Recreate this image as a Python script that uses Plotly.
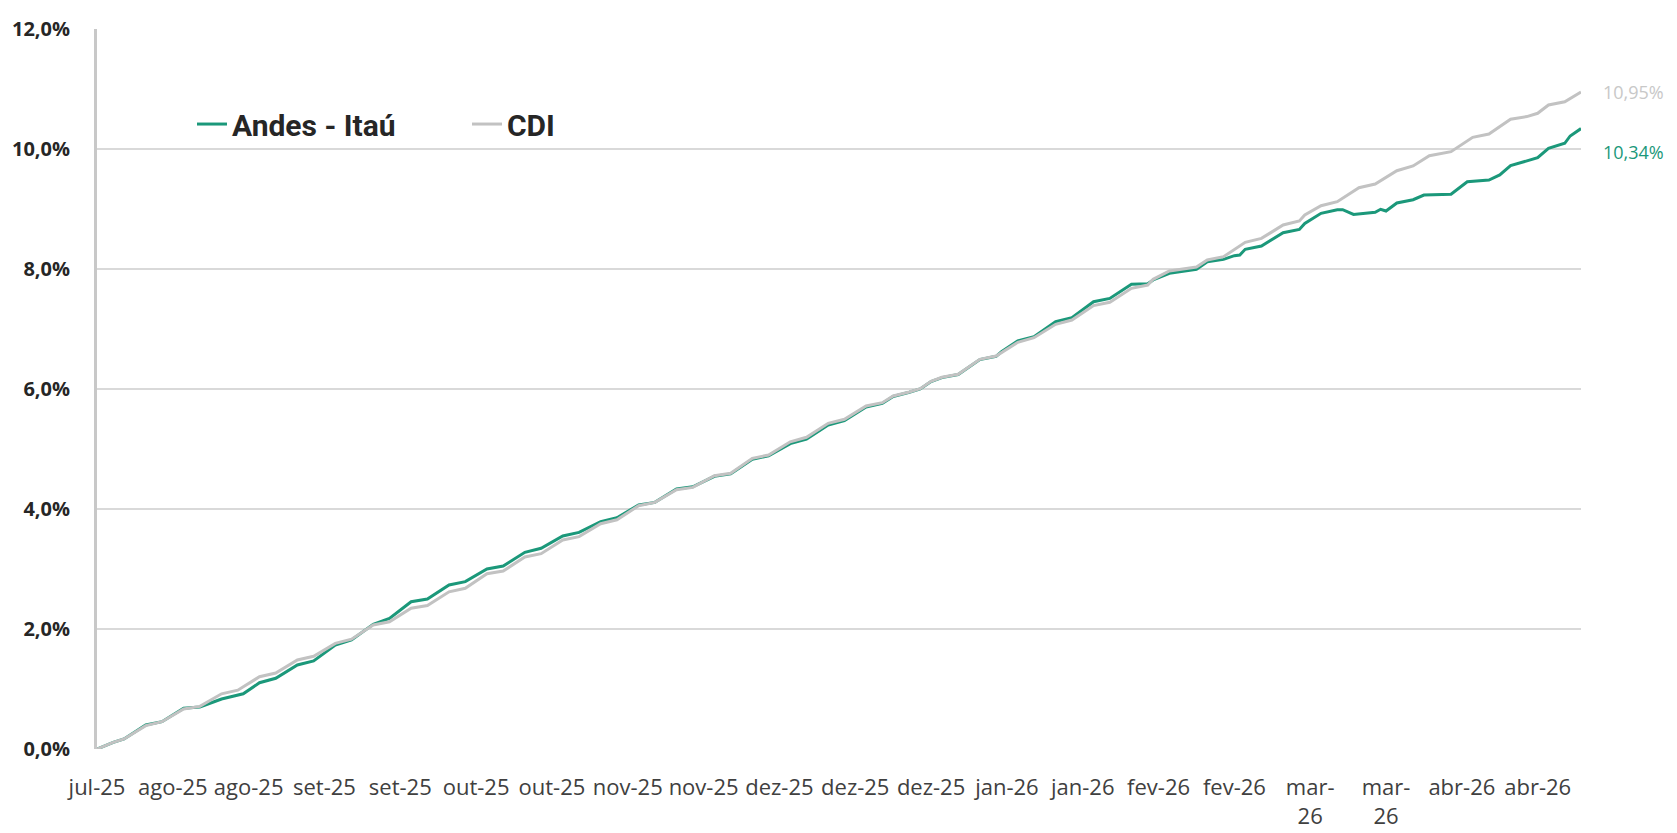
import plotly.graph_objects as go

# Day offsets (calendar days from the first observation) and cumulative returns (%)
cdi_day = [0, 3, 5, 9, 12, 16, 19, 23, 26, 30, 33, 37, 40, 44, 47, 51, 54, 58, 61, 65, 68,
           72, 75, 79, 82, 86, 89, 93, 96, 100, 103, 107, 110, 113, 114, 117, 121, 124, 128,
           131, 135, 138, 142, 145, 147, 150, 152, 154, 156, 159, 163, 166, 167, 170, 173,
           177, 180, 184, 187, 191, 194, 195, 198, 203, 205, 208, 212, 215, 219, 222, 223,
           226, 229, 233, 236, 240, 243, 246, 250, 254, 257, 261, 264, 266, 268, 271, 274]
cdi_val = [0.0, 0.11, 0.167, 0.39, 0.455, 0.667, 0.71, 0.92, 0.98, 1.205, 1.267, 1.483, 1.545,
           1.76, 1.83, 2.067, 2.12, 2.345, 2.39, 2.62, 2.678, 2.922, 2.967, 3.2, 3.255, 3.483,
           3.54, 3.755, 3.82, 4.055, 4.11, 4.32, 4.36, 4.51, 4.555, 4.595, 4.845, 4.9, 5.12,
           5.195, 5.428, 5.495, 5.717, 5.772, 5.883, 5.95, 6.005, 6.128, 6.195, 6.245, 6.495,
           6.55, 6.605, 6.778, 6.855, 7.078, 7.15, 7.39, 7.445, 7.678, 7.733, 7.828, 7.967,
           8.033, 8.15, 8.205, 8.445, 8.51, 8.733, 8.8, 8.9, 9.055, 9.122, 9.355, 9.417, 9.638,
           9.717, 9.888, 9.955, 10.195, 10.25, 10.495, 10.54, 10.595, 10.733, 10.788, 10.95]

andes_day = [0, 3, 5, 9, 12, 16, 19, 23, 27, 30, 33, 37, 40, 44, 47, 51, 54, 58, 61, 65, 68,
             72, 75, 79, 82, 86, 89, 93, 96, 100, 103, 107, 110, 113, 114, 117, 121, 124, 128,
             131, 135, 138, 142, 145, 147, 150, 152, 154, 156, 159, 163, 166, 167, 170, 173,
             177, 180, 184, 187, 191, 194, 195, 198, 203, 205, 208, 210, 211, 212, 215, 219,
             222, 223, 226, 229, 230, 232, 236, 237, 238, 240, 243, 245, 250, 253, 257, 259,
             261, 264, 266, 268, 271, 272, 274]
andes_val = [0.0, 0.11, 0.167, 0.40, 0.455, 0.678, 0.70, 0.833, 0.92, 1.105, 1.178, 1.40, 1.467,
             1.733, 1.817, 2.078, 2.178, 2.455, 2.50, 2.733, 2.79, 3.0, 3.05, 3.278, 3.345,
             3.55, 3.61, 3.79, 3.855, 4.067, 4.11, 4.333, 4.37, 4.50, 4.545, 4.585, 4.83,
             4.885, 5.09, 5.165, 5.40, 5.475, 5.70, 5.76, 5.875, 5.945, 6.0, 6.125, 6.19, 6.24,
             6.49, 6.545, 6.62, 6.80, 6.872, 7.122, 7.19, 7.455, 7.51, 7.745, 7.755, 7.817,
             7.928, 7.995, 8.122, 8.16, 8.222, 8.233, 8.328, 8.383, 8.605, 8.66, 8.76, 8.928,
             8.988, 8.988, 8.91, 8.945, 8.995, 8.967, 9.10, 9.155, 9.233, 9.245, 9.455, 9.483,
             9.567, 9.722, 9.805, 9.855, 10.012, 10.095, 10.217, 10.34]

# Category tick labels (every 14 days)
x_tick_days = [0, 14, 28, 42, 56, 70, 84, 98, 112, 126, 140, 154, 168, 182, 196, 210, 224,
               238, 252, 266]
x_tick_text = ["jul-25", "ago-25", "ago-25", "set-25", "set-25", "out-25", "out-25", "nov-25",
               "nov-25", "dez-25", "dez-25", "dez-25", "jan-26", "jan-26", "fev-26", "fev-26",
               "mar-<br>26", "mar-<br>26", "abr-26", "abr-26"]
y_tick_vals = [0, 2, 4, 6, 8, 10, 12]
y_tick_text = ["0,0%", "2,0%", "4,0%", "6,0%", "8,0%", "10,0%", "12,0%"]

end_label_andes = "10,34%"
end_label_cdi = "10,95%"

GREEN = "#1b987a"
GRAY = "#c2c2c2"
FONT = "Open Sans"
LEGEND_FONT = "Roboto"

fig = go.Figure()
fig.add_trace(go.Scatter(x=andes_day, y=andes_val, mode="lines", name="Andes - Itaú",
                         line=dict(color=GREEN, width=3)))
fig.add_trace(go.Scatter(x=cdi_day, y=cdi_val, mode="lines", name="CDI",
                         line=dict(color=GRAY, width=3)))

fig.add_annotation(x=andes_day[-1], y=andes_val[-1], text=end_label_andes, showarrow=False,
                   xanchor="left", yanchor="middle", xshift=20, yshift=-23,
                   font=dict(family=FONT, size=18, color=GREEN))
fig.add_annotation(x=cdi_day[-1], y=cdi_val[-1], text=end_label_cdi, showarrow=False,
                   xanchor="left", yanchor="middle", xshift=20, yshift=0,
                   font=dict(family=FONT, size=18, color="#c8c8c8"))

# page body adds an 8px margin, so the figure is 1669x825 to fill 1677x833
fig.update_layout(
    width=1669, height=825,
    margin=dict(l=89, r=96, t=21, b=84),
    paper_bgcolor="white", plot_bgcolor="white",
    font=dict(family=FONT, color="#404040"),
    showlegend=True,
    legend=dict(orientation="h", x=0.064, y=0.868, xanchor="left", yanchor="middle",
                font=dict(family=LEGEND_FONT, size=30, color="#262626", weight="bold"),
                entrywidth=230, bgcolor="rgba(0,0,0,0)"),
    hovermode=False,
)
fig.update_xaxes(range=[0, 274], tickmode="array", tickvals=x_tick_days, ticktext=x_tick_text,
                 showgrid=False, zeroline=False, showline=False, automargin=False,
                 ticks="outside", ticklen=19, tickcolor="rgba(0,0,0,0)",
                 tickfont=dict(family=FONT, size=22, color="#404040"))
fig.update_yaxes(range=[0, 12], tickmode="array", tickvals=y_tick_vals, ticktext=y_tick_text,
                 showgrid=True, gridcolor="#d9d9d9", gridwidth=2, zeroline=False,
                 showline=True, linecolor="#c8c8c8", linewidth=3, automargin=False,
                 ticks="outside", ticklen=20, tickcolor="rgba(0,0,0,0)",
                 tickfont=dict(family=FONT, size=20, color="#262626", weight="bold"))

fig.write_html("out.html")
